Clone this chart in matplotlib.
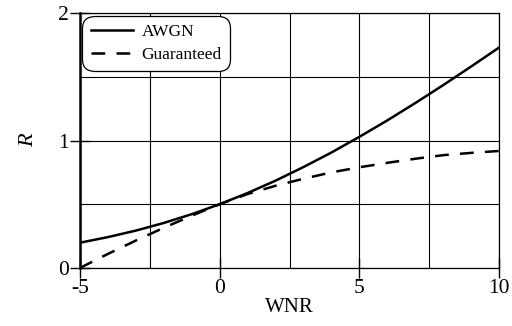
import matplotlib
matplotlib.use("Agg")
import matplotlib.pyplot as plt

# values
wnr = [-5, -4, -3, -2, -1, 0, 1, 2, 3, 4, 5, 6, 7, 8, 9, 10]
awgn = [0.198, 0.242, 0.293, 0.353, 0.422, 0.5, 0.588, 0.685, 0.792, 0.906,
        1.029, 1.158, 1.294, 1.435, 1.581, 1.730]
guaranteed = [0.0, 0.11, 0.215, 0.315, 0.41, 0.5, 0.58, 0.645, 0.70, 0.75,
              0.79, 0.825, 0.857, 0.885, 0.903, 0.918]

xticks = [-5, 0, 5, 10]
yticks = [0, 1, 2]
xgrid = [-5, -2.5, 0, 2.5, 5, 7.5, 10]
ygrid = [0, 0.5, 1, 1.5, 2]

plt.rcParams['font.family'] = ['Liberation Serif', 'DejaVu Serif']
plt.rcParams['axes.unicode_minus'] = False

fig = plt.figure(figsize=(5.12, 3.26), dpi=100)
ax = fig.add_axes([0.156, 0.178, 0.819, 0.782])

for g in xgrid:
    ax.axvline(g, color="black", lw=0.8, zorder=1)
for g in ygrid:
    ax.axhline(g, color="black", lw=0.8, zorder=1)

ax.plot(wnr, awgn, color="black", lw=1.8, label="AWGN", zorder=3)
ax.plot(wnr, guaranteed, color="black", lw=1.8, ls=(0, (5.5, 4.5)),
        label="Guaranteed", zorder=3)

ax.set_xlim(-5, 10)
ax.set_ylim(0, 2)
ax.set_xticks(xticks)
ax.set_yticks(yticks)
ax.tick_params(direction="inout", length=14, width=1.0, labelsize=15.5,
               pad=1)

for s in ["top", "right", "bottom"]:
    ax.spines[s].set_linewidth(0.9)
ax.spines["left"].set_linewidth(1.8)

ax.set_xlabel("WNR", fontsize=15, labelpad=0)
ax.set_ylabel("R", fontsize=16, style="italic", labelpad=14)

leg = ax.legend(loc="upper left", fontsize=12.5, frameon=True, fancybox=True,
                framealpha=1, edgecolor="black", handlelength=2.4,
                borderaxespad=0.15, labelspacing=0.35, handletextpad=0.5,
                borderpad=0.5)
leg.get_frame().set_linewidth(0.9)
leg.get_frame().set_boxstyle("round,pad=0,rounding_size=0.7")

fig.savefig("out.png", dpi=100)
